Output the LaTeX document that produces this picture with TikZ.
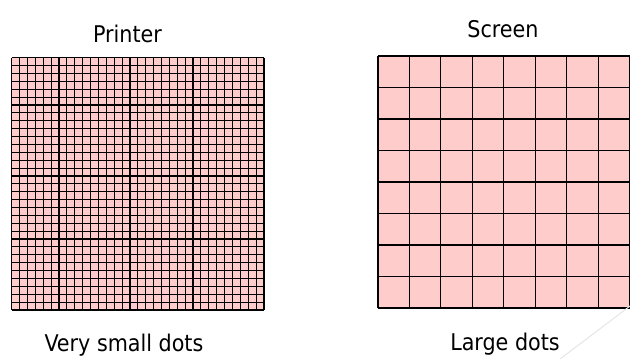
\documentclass[tikz,border=0pt]{standalone}
\usepackage{fontspec}
\setmainfont{DejaVu Sans Condensed}
\definecolor{pinkfill}{HTML}{FFCCCC}
\tikzset{
  label/.style={font=\fontsize{23}{28}\selectfont, text=black, inner sep=0pt, anchor=base},
  gridline/.style={draw=black, line width=1.1pt},
}
\begin{document}
\begin{tikzpicture}[x=1pt,y=-1pt]
\useasboundingbox (0,0) rectangle (630,359);
% left fine grid (printer)
\fill[pinkfill] (11.7,57.7) rectangle (264,310);
\foreach \i in {0,...,32} {
  \draw[gridline] ({11.7+\i*252.3/32},57.7) -- ({11.7+\i*252.3/32},310);
  \draw[gridline] (11.7,{57.7+\i*252.3/32}) -- (264,{57.7+\i*252.3/32});
}
% right coarse grid (screen)
\fill[pinkfill] (378,56) rectangle (629.5,308);
\foreach \i in {0,...,8} {
  \draw[gridline] ({378+\i*251.5/8},56) -- ({378+\i*251.5/8},308);
  \draw[gridline] (378,{56+\i*252/8}) -- (629.5,{56+\i*252/8});
}
\node[label] (printer) at (127.5,42) {Printer};
\node[label] (screen) at (503,37) {Screen};
\node[label] (small) at (124,351) {Very small dots};
\node[label] (large) at (505,350) {Large dots};
\draw[gray!20, line width=1pt] (560,359) -- (630,306);
\end{tikzpicture}
\end{document}
